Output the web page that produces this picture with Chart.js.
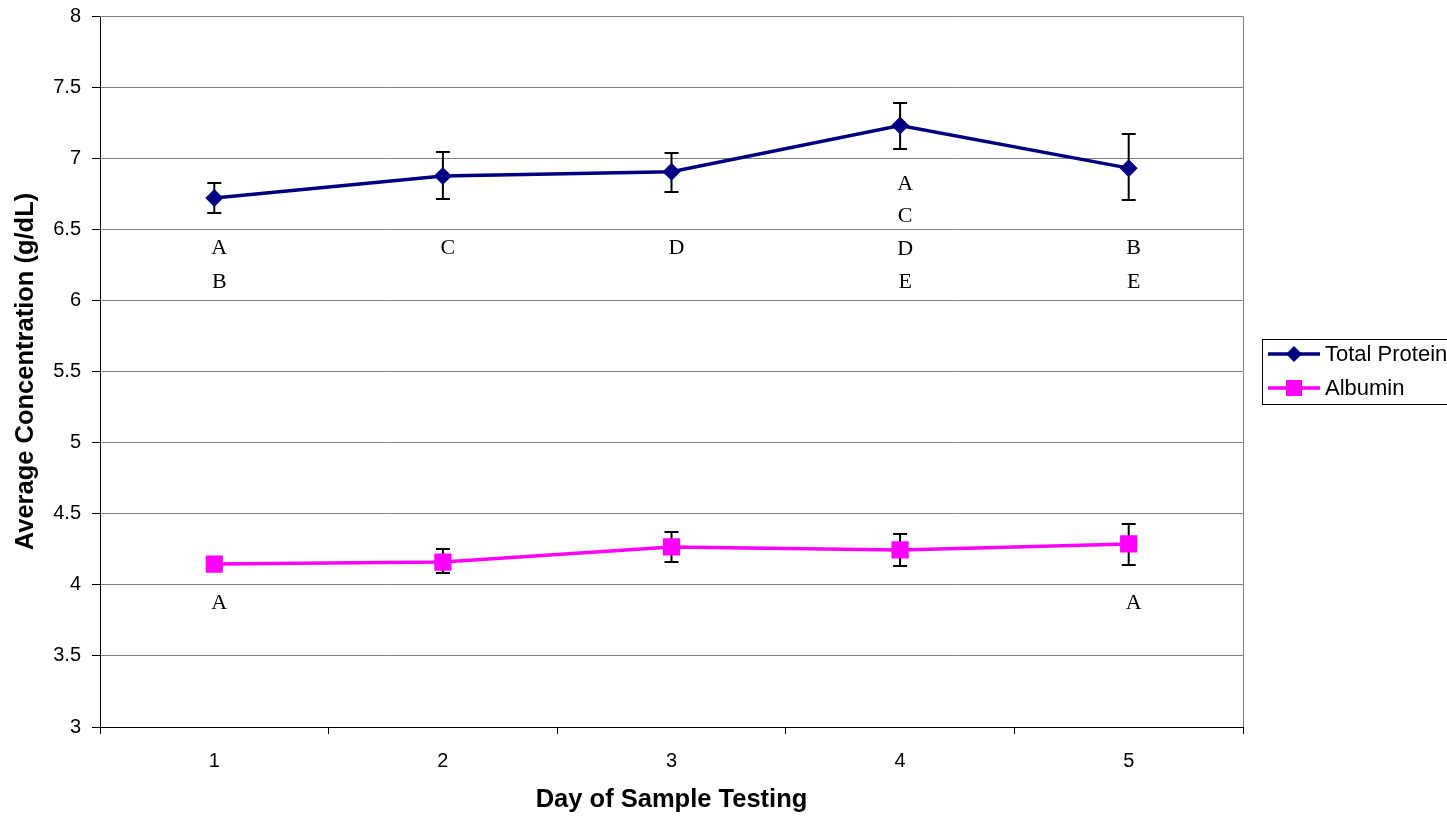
<!DOCTYPE html>
<html>
<head>
<meta charset="utf-8">
<script src="https://cdn.jsdelivr.net/npm/chart.js@4/dist/chart.umd.min.js"></script>
<style>
  html, body { margin: 0; padding: 0; background: #fff; }
  #wrap { width: 1447px; height: 817px; position: relative; }
</style>
</head>
<body>
<div id="wrap"><canvas id="c" width="1447" height="817"></canvas></div>
<script>
// ---- Data ----
const days = ['1', '2', '3', '4', '5'];
const yTicks = [3, 3.5, 4, 4.5, 5, 5.5, 6, 6.5, 7, 7.5, 8];

const totalProtein     = [6.72, 6.875, 6.905, 7.23, 6.93];
const totalProteinLow  = [6.615, 6.713, 6.763, 7.064, 6.706];
const totalProteinHigh = [6.826, 7.044, 7.037, 7.388, 7.17];

const albumin     = [4.146, 4.16, 4.266, 4.245, 4.287];
const albuminLow  = [4.11, 4.083, 4.16, 4.132, 4.139];
const albuminHigh = [4.18, 4.252, 4.371, 4.357, 4.428];

// significance letters under each point, with the value where the first row sits
const proteinLetters   = [['A', 'B'], ['C'], ['D'], ['A', 'C', 'D', 'E'], ['B', 'E']];
const proteinLetterTop = [6.368, 6.368, 6.368, 6.82, 6.368];
const albuminLetters   = [['A'], [], [], [], ['A']];
const albuminLetterTop = [3.87, 3.87, 3.87, 3.87, 3.87];

const seriesNames = ['Total Protein', 'Albumin'];
const seriesColors = ['#000080', '#FF00FF'];

// ---- Plugins ----
const errorBars = {
  id: 'errorBars',
  beforeDatasetsDraw(chart) {
    const ctx = chart.ctx;
    const xs = chart.scales.x, ys = chart.scales.y;
    const sets = [[totalProteinLow, totalProteinHigh], [albuminLow, albuminHigh]];
    ctx.save();
    ctx.strokeStyle = '#000';
    ctx.lineWidth = 2;
    sets.forEach(([lo, hi]) => {
      days.forEach((d, i) => {
        const x = xs.getPixelForValue(i);
        const y1 = ys.getPixelForValue(lo[i]);
        const y2 = ys.getPixelForValue(hi[i]);
        ctx.beginPath();
        ctx.moveTo(x, y1); ctx.lineTo(x, y2);
        ctx.moveTo(x - 7, y1); ctx.lineTo(x + 7, y1);
        ctx.moveTo(x - 7, y2); ctx.lineTo(x + 7, y2);
        ctx.stroke();
      });
    });
    ctx.restore();
  }
};

const frameAndText = {
  id: 'frameAndText',
  beforeDatasetsDraw(chart) {
    const {ctx, chartArea: a} = chart;
    ctx.save();
    ctx.strokeStyle = '#808080';
    ctx.lineWidth = 1;
    ctx.beginPath();
    ctx.moveTo(a.left, a.top + 0.5); ctx.lineTo(a.right + 0.5, a.top + 0.5);
    ctx.lineTo(a.right + 0.5, a.bottom);
    ctx.stroke();
    ctx.restore();
  },
  afterDatasetsDraw(chart) {
    const ctx = chart.ctx;
    const xs = chart.scales.x, ys = chart.scales.y;
    ctx.save();
    ctx.fillStyle = '#000';
    ctx.font = '22px "Liberation Serif", "Times New Roman", serif';
    ctx.textAlign = 'center';
    ctx.textBaseline = 'middle';
    const draw = (letters, tops) => {
      letters.forEach((arr, i) => {
        const x = xs.getPixelForValue(i) + 5;
        const y0 = ys.getPixelForValue(tops[i]);
        const gap = arr.length > 2 ? 32.7 : 34;
        arr.forEach((t, k) => ctx.fillText(t, x, y0 + k * gap));
      });
    };
    draw(proteinLetters, proteinLetterTop);
    draw(albuminLetters, albuminLetterTop);
    ctx.restore();
  },
  afterDraw(chart) {
    const ctx = chart.ctx;
    ctx.save();
    // legend box
    ctx.strokeStyle = '#000';
    ctx.lineWidth = 1;
    ctx.strokeRect(1262.5, 339.5, 200, 65);
    const rows = [354, 388];
    chart.data.datasets.forEach((ds, i) => {
      const y = rows[i];
      ctx.strokeStyle = seriesColors[i];
      ctx.lineWidth = 3.5;
      ctx.beginPath(); ctx.moveTo(1268, y); ctx.lineTo(1320, y); ctx.stroke();
      ctx.fillStyle = seriesColors[i];
      if (i === 0) {
        ctx.beginPath();
        ctx.moveTo(1294, y - 8); ctx.lineTo(1302, y); ctx.lineTo(1294, y + 8); ctx.lineTo(1286, y);
        ctx.closePath(); ctx.fill();
      } else {
        ctx.fillRect(1294 - 8, y - 8, 16, 16);
      }
      ctx.fillStyle = '#000';
      ctx.font = '22px "Liberation Sans", Arial, sans-serif';
      ctx.textAlign = 'left';
      ctx.textBaseline = 'middle';
      ctx.fillText(ds.label, 1325, y + 1);
    });
    ctx.restore();
  }
};

// ---- Chart ----
new Chart(document.getElementById('c'), {
  type: 'line',
  data: {
    labels: days,
    datasets: [
      {
        label: seriesNames[0],
        data: totalProtein,
        borderColor: seriesColors[0],
        backgroundColor: seriesColors[0],
        borderWidth: 3.5,
        pointStyle: 'rectRot',
        pointRadius: 9,
        pointBorderWidth: 0,
        tension: 0
      },
      {
        label: seriesNames[1],
        data: albumin,
        borderColor: seriesColors[1],
        backgroundColor: seriesColors[1],
        borderWidth: 3.5,
        pointStyle: 'rect',
        pointRadius: 12.2,
        pointBorderWidth: 0,
        tension: 0
      }
    ]
  },
  options: {
    responsive: false,
    animation: false,
    layout: { padding: { top: 16, right: 204, bottom: 0, left: 0 } },
    plugins: { legend: { display: false }, tooltip: { enabled: false } },
    scales: {
      x: {
        type: 'category',
        offset: true,
        afterFit(s) { s.height = 90; s.paddingLeft = 0; s.paddingRight = 0; },
        grid: { offset: true, drawOnChartArea: false, drawTicks: true, tickLength: 7, tickColor: '#000', color: '#000' },
        border: { color: '#000', width: 1 },
        ticks: { color: '#000', padding: 15, font: { family: '"Liberation Sans", Arial, sans-serif', size: 20 } },
        title: {
          display: true,
          text: 'Day of Sample Testing',
          color: '#000',
          font: { family: '"Liberation Sans", Arial, sans-serif', size: 25.5, weight: 'bold' },
          padding: { top: 2, bottom: 2 }
        }
      },
      y: {
        min: 3,
        max: 8,
        afterFit(s) { s.width = 100; s.paddingTop = 0; s.paddingBottom = 0; },
        afterBuildTicks(s) { s.ticks = yTicks.map(v => ({ value: v })); },
        grid: { color: '#808080', lineWidth: 1, drawTicks: true, tickLength: 8, tickColor: '#000' },
        border: { color: '#000', width: 1 },
        ticks: {
          color: '#000', padding: 11,
          font: { family: '"Liberation Sans", Arial, sans-serif', size: 20 },
          callback: (v) => String(v)
        },
        title: {
          display: true,
          text: 'Average Concentration (g/dL)',
          color: '#000',
          font: { family: '"Liberation Sans", Arial, sans-serif', size: 25.5, weight: 'bold' },
          padding: { top: 11, bottom: 4 }
        }
      }
    }
  },
  plugins: [errorBars, frameAndText]
});
</script>
</body>
</html>
